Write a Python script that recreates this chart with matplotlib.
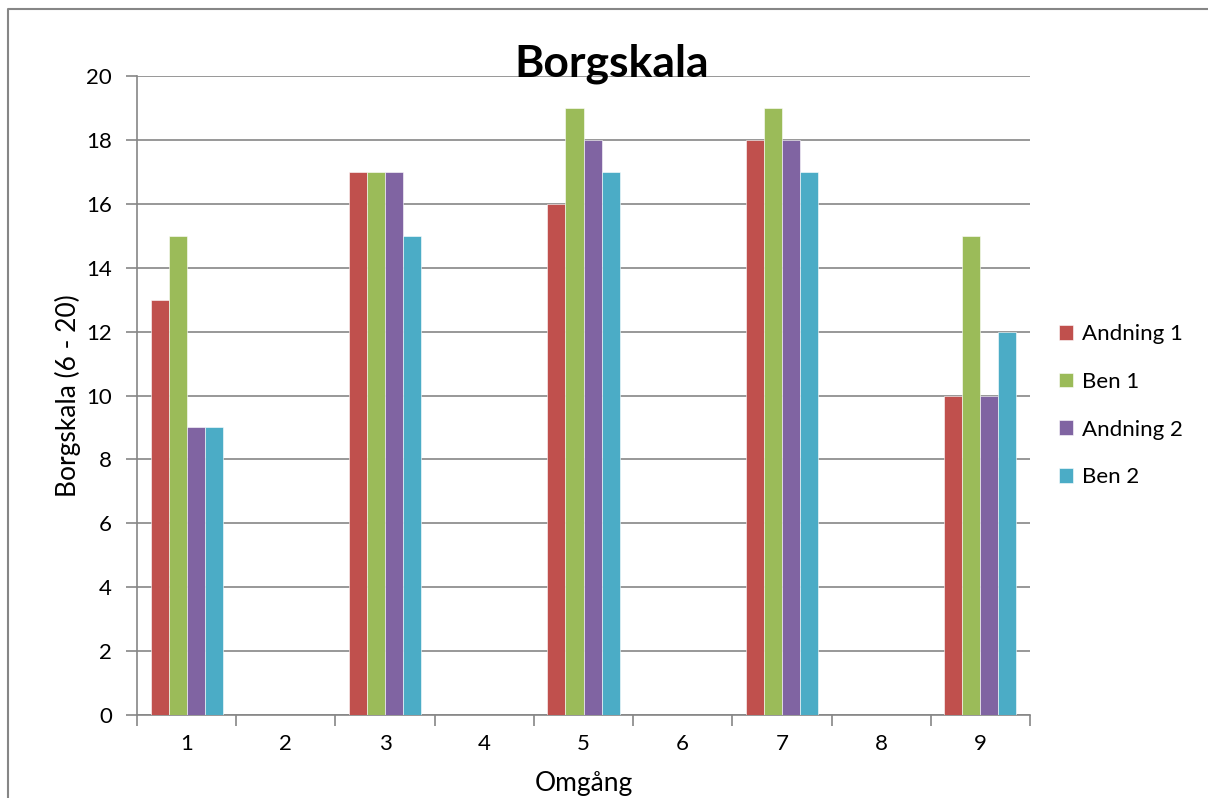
import numpy as np
from matplotlib import pyplot as plt
from matplotlib.lines import Line2D

rounds = [1, 2, 3, 4, 5, 6, 7, 8, 9]
andning_1 = [13, np.nan, 17, np.nan, 16, np.nan, 18, np.nan, 10]
ben_1 = [15, np.nan, 17, np.nan, 19, np.nan, 19, np.nan, 15]
andning_2 = [9, np.nan, 17, np.nan, 18, np.nan, 18, np.nan, 10]
ben_2 = [9, np.nan, 15, np.nan, 17, np.nan, 17, np.nan, 12]
series_names = ['Andning 1', 'Ben 1', 'Andning 2', 'Ben 2']
colors = ['#C0504D', '#9BBB59', '#8064A2', '#4BACC6']
y_ticks = [0, 2, 4, 6, 8, 10, 12, 14, 16, 18, 20]

plt.rcParams['font.family'] = ['Lato', 'DejaVu Sans']

fig = plt.figure(figsize=(12.08, 7.98), dpi=100)
ax = fig.add_axes([137 / 1208, 1 - 715 / 798, (1030 - 137) / 1208, (715 - 76) / 798])

grey = '#868686'
w = 1 / 5.5
x = np.array(rounds, dtype=float)
for i, (vals, name, c) in enumerate(zip([andning_1, ben_1, andning_2, ben_2], series_names, colors)):
    ax.bar(x + (i - 1.5) * w, vals, width=w, color=c, edgecolor='white', linewidth=0.4,
           label=name, zorder=3)

ax.set_xlim(0.5, 9.5)
ax.set_ylim(0, 20)
ax.set_yticks(y_ticks)
ax.set_xticks(rounds)
ax.set_xticks(np.arange(0.5, 10, 1), minor=True)
ax.tick_params(axis='x', which='major', length=0, pad=14, labelsize=16)
ax.tick_params(axis='x', which='minor', length=8, color=grey, width=1.2, direction='out')
ax.tick_params(axis='y', length=8, color=grey, width=1.2, direction='out', pad=10, labelsize=16)
ax.grid(axis='y', color=grey, linewidth=1.2, zorder=0)
for s in ['top', 'right']:
    ax.spines[s].set_visible(False)
for s in ['left', 'bottom']:
    ax.spines[s].set_color(grey)
    ax.spines[s].set_linewidth(1.2)

ax.set_ylabel('Borgskala (6 - 20)', fontsize=19, labelpad=4)
ax.set_xlabel('Omgång', fontsize=19, labelpad=12)

fig.text(612 / 1208, 1 - 76 / 798, 'Borgskala', ha='center', va='baseline',
         fontsize=32, fontweight='bold', zorder=10)

ax.legend(loc='center left', bbox_to_anchor=(1.01, 0.484), frameon=False, fontsize=16,
          handlelength=0.65, handleheight=0.65, handletextpad=0.4, labelspacing=1.25)

fig.add_artist(Line2D([8 / 1208, 8 / 1208, 1.0], [0.0, 1 - 9 / 798, 1 - 9 / 798],
                      transform=fig.transFigure, color=grey, linewidth=1.5))

fig.savefig('out.png', dpi=100)
